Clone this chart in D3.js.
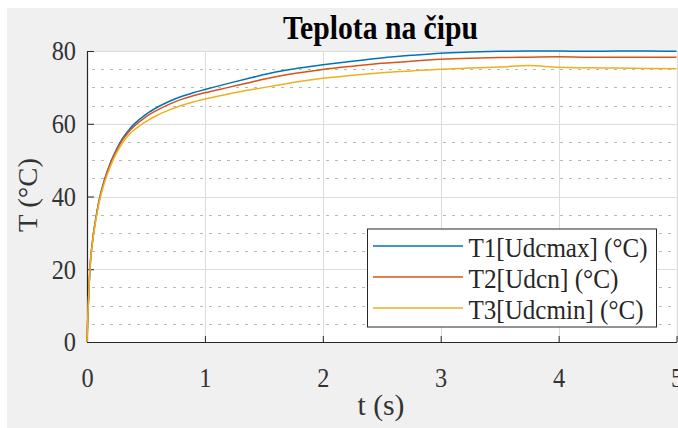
<!DOCTYPE html>
<html>
<head>
<meta charset="utf-8">
<script src="https://cdn.jsdelivr.net/npm/d3@7"></script>
<style>
  html, body { margin: 0; padding: 0; background: #ffffff; }
  svg { display: block; }
  text { font-family: "Liberation Serif", "Times New Roman", serif; }
</style>
</head>
<body>
<svg id="chart" width="678" height="428"></svg>
<script>
// Time axis (s) and the three chip temperature traces (°C)
const tValues = [0, 0.005, 0.01, 0.02, 0.03, 0.05, 0.075, 0.1, 0.15, 0.2, 0.25, 0.3, 0.35, 0.4,
  0.5, 0.6, 0.7, 0.8, 0.9, 1.0, 1.2, 1.4, 1.6, 1.8, 2.0, 2.25, 2.5, 2.75, 3.0, 3.25, 3.5,
  3.75, 4.0, 4.25, 4.5, 4.75, 5.0];
const udcMax = [0, 5, 9.5, 17, 22.5, 28.5, 34, 38.5, 44.8, 49.4, 53.0, 55.9, 58.1, 59.9,
  62.6, 64.6, 66.2, 67.5, 68.5, 69.4, 71.1, 72.7, 74.2, 75.3, 76.2, 77.2, 78.1, 78.8, 79.4, 79.7, 79.9,
  80.0, 80.0, 79.9, 80.0, 80.0, 79.9];
const udcN = [0, 5, 9.5, 17, 22.5, 28.5, 34, 38.4, 44.6, 49.1, 52.6, 55.5, 57.6, 59.3,
  61.9, 63.8, 65.4, 66.7, 67.7, 68.5, 70.0, 71.5, 72.9, 74.0, 74.9, 75.8, 76.6, 77.2, 77.7, 78.0, 78.2,
  78.3, 78.4, 78.3, 78.3, 78.3, 78.3];
const udcMin = [0, 5, 9.4, 16.8, 22.2, 28.1, 33.5, 37.9, 44.0, 48.4, 51.9, 54.7, 56.8, 58.3,
  60.6, 62.4, 63.8, 65.0, 66.0, 66.8, 68.2, 69.4, 70.5, 71.6, 72.5, 73.3, 74.0, 74.5, 75.0, 75.3, 75.6,
  76.0, 75.5, 75.4, 75.3, 75.2, 75.1];

const seriesNames = ["T1[Udcmax] (°C)", "T2[Udcn] (°C)", "T3[Udcmin] (°C)"];
const seriesColors = ["#0072BD", "#D95319", "#EDB120"];
const seriesValues = [udcMax, udcN, udcMin];

const xTicks = [0, 1, 2, 3, 4, 5];
const yTicks = [0, 20, 40, 60, 80];
const yMinorTicks = [5, 10, 15, 25, 30, 35, 45, 50, 55, 65, 70, 75];

const titleText = "Teplota na čipu";
const xLabelText = "t (s)";
const yLabelText = "T (°C)";

const svg = d3.select("#chart");
const W = 678, H = 428;
const plot = { left: 87, right: 676.5, top: 51, bottom: 342 };
const squeeze = 0.87;          // narrow serif look of the labels
const axisColor = "#262626";

// figure background
svg.append("rect").attr("x", 7).attr("y", 8).attr("width", W - 7).attr("height", H - 8)
  .attr("fill", "#f0f0f0");

const x = d3.scaleLinear().domain([0, 5]).range([plot.left, plot.right]);
const y = d3.scaleLinear().domain([0, 80]).range([plot.bottom, plot.top]);

// plot area
svg.append("rect").attr("x", plot.left).attr("y", plot.top)
  .attr("width", plot.right - plot.left).attr("height", plot.bottom - plot.top)
  .attr("fill", "#ffffff");

// minor horizontal grid (dotted)
svg.append("g").selectAll("line").data(yMinorTicks).join("line")
  .attr("x1", plot.left).attr("x2", plot.right)
  .attr("y1", d => Math.round(y(d)) + 0.5).attr("y2", d => Math.round(y(d)) + 0.5)
  .attr("stroke", "#b8b8b8").attr("stroke-width", 1)
  .attr("stroke-dasharray", "3,6").attr("stroke-dashoffset", -5);

// major grid
svg.append("g").selectAll("line").data(yTicks).join("line")
  .attr("x1", plot.left).attr("x2", plot.right)
  .attr("y1", d => Math.round(y(d)) + 0.5).attr("y2", d => Math.round(y(d)) + 0.5)
  .attr("stroke", "#dcdcdc").attr("stroke-width", 1);
svg.append("g").selectAll("line").data(xTicks).join("line")
  .attr("x1", d => Math.round(x(d)) + 0.5).attr("x2", d => Math.round(x(d)) + 0.5)
  .attr("y1", plot.top).attr("y2", plot.bottom)
  .attr("stroke", "#dcdcdc").attr("stroke-width", 1);

// axes with inward ticks
const xAxis = d3.axisBottom(x).tickValues(xTicks).tickFormat(d3.format("d"))
  .tickSizeInner(-6).tickSizeOuter(0).tickPadding(25);
const yAxis = d3.axisLeft(y).tickValues(yTicks).tickFormat(d3.format("d"))
  .tickSizeInner(-7).tickSizeOuter(0).tickPadding(11);

const gx = svg.append("g").attr("transform", `translate(0,${plot.bottom})`).call(xAxis);
const gy = svg.append("g").attr("transform", `translate(${plot.left},0)`).call(yAxis);

[gx, gy].forEach(g => {
  g.select(".domain").attr("stroke", axisColor).attr("stroke-width", 1.2);
  g.selectAll(".tick line").attr("stroke", axisColor).attr("stroke-width", 1);
  g.selectAll(".tick text").attr("fill", "#333333")
    .style("font-family", '"Liberation Serif", serif').style("font-size", "28px");
});
gx.selectAll(".tick text").attr("transform", `scale(${squeeze},1)`);
gy.selectAll(".tick text").attr("x", -11 / squeeze).attr("transform", `scale(${squeeze},1)`);

// traces
svg.append("defs").append("clipPath").attr("id", "plotClip").append("rect")
  .attr("x", plot.left - 2).attr("y", plot.top - 2)
  .attr("width", plot.right - plot.left + 4).attr("height", plot.bottom - plot.top + 2);

const line = d3.line().curve(d3.curveMonotoneX);
const traces = svg.append("g").attr("clip-path", "url(#plotClip)");
seriesValues.forEach((vals, i) => {
  traces.append("path")
    .attr("d", line(tValues.map((t, k) => [x(t), y(vals[k])])))
    .attr("fill", "none").attr("stroke", seriesColors[i])
    .attr("stroke-width", 1.5).attr("stroke-linejoin", "round");
});

// title and axis labels
svg.append("text").attr("x", 380.5).attr("y", 38.7).attr("text-anchor", "middle")
  .attr("font-size", 33).attr("font-weight", "bold").attr("fill", "#000")
  .attr("textLength", 195).attr("lengthAdjust", "spacingAndGlyphs").text(titleText);

svg.append("text").attr("x", 381).attr("y", 415).attr("text-anchor", "middle")
  .attr("font-size", 30).attr("fill", "#333333")
  .attr("textLength", 47).attr("lengthAdjust", "spacingAndGlyphs").text(xLabelText);

svg.append("text").attr("transform", "translate(36.5,195) rotate(-90)")
  .attr("text-anchor", "middle").attr("font-size", 28).attr("fill", "#333333")
  .attr("textLength", 74).attr("lengthAdjust", "spacingAndGlyphs").text(yLabelText);

// legend
const legend = { x: 367, y: 228.5, w: 289, h: 98 };
const lg = svg.append("g");
lg.append("rect").attr("x", legend.x + 0.5).attr("y", legend.y + 0.5)
  .attr("width", legend.w).attr("height", legend.h)
  .attr("fill", "#ffffff").attr("stroke", axisColor).attr("stroke-width", 1);
const rowY = [246, 277, 308];
const textWidths = [179, 150, 175];
seriesNames.forEach((name, i) => {
  lg.append("line").attr("x1", 373).attr("x2", 463)
    .attr("y1", rowY[i]).attr("y2", rowY[i])
    .attr("stroke", seriesColors[i]).attr("stroke-width", 1.5);
  lg.append("text").attr("x", 468.5).attr("y", rowY[i] + 10.5)
    .attr("font-size", 28).attr("fill", "#262626")
    .attr("textLength", textWidths[i]).attr("lengthAdjust", "spacingAndGlyphs")
    .text(name);
});
</script>
</body>
</html>
